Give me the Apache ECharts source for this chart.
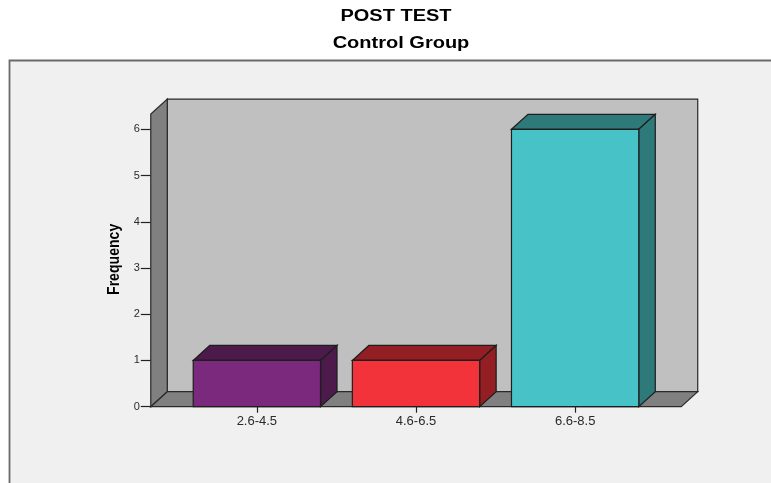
<!DOCTYPE html>
<html>
<head>
<meta charset="utf-8">
<title>POST TEST - Control Group</title>
<script src="https://cdn.jsdelivr.net/npm/echarts@6/dist/echarts.min.js"></script>
<style>
  html, body { margin: 0; padding: 0; background: #ffffff; }
  #chart { width: 771px; height: 483px; }
</style>
</head>
<body>
<div id="chart"></div>
<script>
// Score bands and how many students fell in each
const categories = ['2.6-4.5', '4.6-6.5', '6.6-8.5'];
const frequency = [1, 1, 6];
const yTicks = [0, 1, 2, 3, 4, 5, 6];

// Face colours of each bar: front face and the shaded top/side faces
const frontColors = ['#7b297c', '#f3333a', '#47c2c6'];
const shadeColors = ['#4c1a4b', '#931e23', '#2e7979'];

// Pseudo-3D depth of the box, in pixels
const DX = 16.5;
const DY = 15;
const WALL_TOP = 6.33;   // height of the side wall in axis units

const chart = echarts.init(document.getElementById('chart'));

function renderWalls(params, api) {
  const cs = params.coordSys;
  const band = api.size([1, 0])[0];
  const pad = band / 6;
  const xL = cs.x - pad;
  const xR = cs.x + cs.width + pad;
  const yB = api.coord([0, 0])[1];
  const yT = api.coord([0, WALL_TOP])[1];
  const edge = { stroke: '#2a2a2a', lineWidth: 1.2 };
  return {
    type: 'group',
    children: [
      { type: 'rect', shape: { x: xL + DX, y: yT - DY, width: xR - xL, height: yB - yT },
        style: Object.assign({ fill: '#c0c0c0' }, edge) },
      { type: 'polygon', shape: { points: [[xL, yB], [xL, yT], [xL + DX, yT - DY], [xL + DX, yB - DY]] },
        style: Object.assign({ fill: '#808080' }, edge) },
      { type: 'polygon', shape: { points: [[xL, yB], [xL + DX, yB - DY], [xR + DX, yB - DY], [xR, yB]] },
        style: Object.assign({ fill: '#808080' }, edge) },
      // axis title, centred on the left wall
      { type: 'text', x: xL - 36, y: (yB + yT) / 2 - 1, rotation: Math.PI / 2, scaleX: 0.88,
        style: { text: 'Frequency', font: 'bold 16px "Liberation Sans", Arial, sans-serif',
                 fill: '#000000', textAlign: 'center', textVerticalAlign: 'middle' } }
    ]
  };
}

function renderBar(params, api) {
  const i = params.dataIndex;
  const top = api.coord([api.value(0), api.value(1)]);
  const base = api.coord([api.value(0), 0]);
  const w = api.size([1, 0])[0] * 0.8;
  const x0 = top[0] - w / 2;
  const x1 = top[0] + w / 2;
  const edge = { stroke: '#1e1e1e', lineWidth: 1.2 };
  return {
    type: 'group',
    children: [
      { type: 'polygon', shape: { points: [[x0, top[1]], [x0 + DX, top[1] - DY], [x1 + DX, top[1] - DY], [x1, top[1]]] },
        style: Object.assign({ fill: shadeColors[i] }, edge) },
      { type: 'polygon', shape: { points: [[x1, top[1]], [x1 + DX, top[1] - DY], [x1 + DX, base[1] - DY], [x1, base[1]]] },
        style: Object.assign({ fill: shadeColors[i] }, edge) },
      { type: 'rect', shape: { x: x0, y: top[1], width: w, height: base[1] - top[1] },
        style: Object.assign({ fill: frontColors[i] }, edge) }
    ]
  };
}

const option = {
  backgroundColor: '#ffffff',
  animation: false,
  graphic: [
    { type: 'rect', z: -10, silent: true,
      shape: { x: 9.5, y: 60.5, width: 800, height: 480 },
      style: { fill: '#f0f0f0', stroke: '#6a6a6a', lineWidth: 1.8 } },
    { type: 'text', x: 396, y: 17, scaleX: 1.25, z: 10,
      style: { text: 'POST TEST', font: 'bold 16px "Liberation Sans", Arial, sans-serif',
               fill: '#000000', textAlign: 'center', textVerticalAlign: 'middle' } },
    { type: 'text', x: 401, y: 44, scaleX: 1.25, z: 10,
      style: { text: 'Control Group', font: 'bold 16px "Liberation Sans", Arial, sans-serif',
               fill: '#000000', textAlign: 'center', textVerticalAlign: 'middle' } }
  ],
  grid: { left: 177.3, right: 116.3, top: 129.3, bottom: 76.3 },
  xAxis: {
    type: 'category',
    data: categories,
    axisLine: { show: false },
    axisTick: { show: true, alignWithLabel: true, length: 6, lineStyle: { color: '#222', width: 1.2 } },
    axisLabel: { margin: 8, fontSize: 13, color: '#2a2a2a', fontFamily: '"Liberation Sans", Arial, sans-serif' },
    splitLine: { show: false }
  },
  yAxis: {
    type: 'value',
    min: yTicks[0],
    max: yTicks[yTicks.length - 1],
    interval: 1,
    offset: 26.5,
    axisLine: { show: true, lineStyle: { color: '#222', width: 1.2 } },
    axisTick: { show: true, length: 10, lineStyle: { color: '#222', width: 1.2 } },
    axisLabel: { margin: 11, fontSize: 11, color: '#2a2a2a', fontFamily: '"Liberation Sans", Arial, sans-serif' },
    splitLine: { show: false }
  },
  series: [
    {
      type: 'custom',
      name: 'walls',
      renderItem: renderWalls,
      data: [[0, 0]],
      clip: false,
      silent: true,
      z: 1
    },
    {
      type: 'custom',
      name: 'Frequency',
      renderItem: renderBar,
      data: categories.map((c, i) => [i, frequency[i]]),
      encode: { x: 0, y: 1 },
      clip: false,
      z: 2
    }
  ]
};

chart.setOption(option);
</script>
</body>
</html>
